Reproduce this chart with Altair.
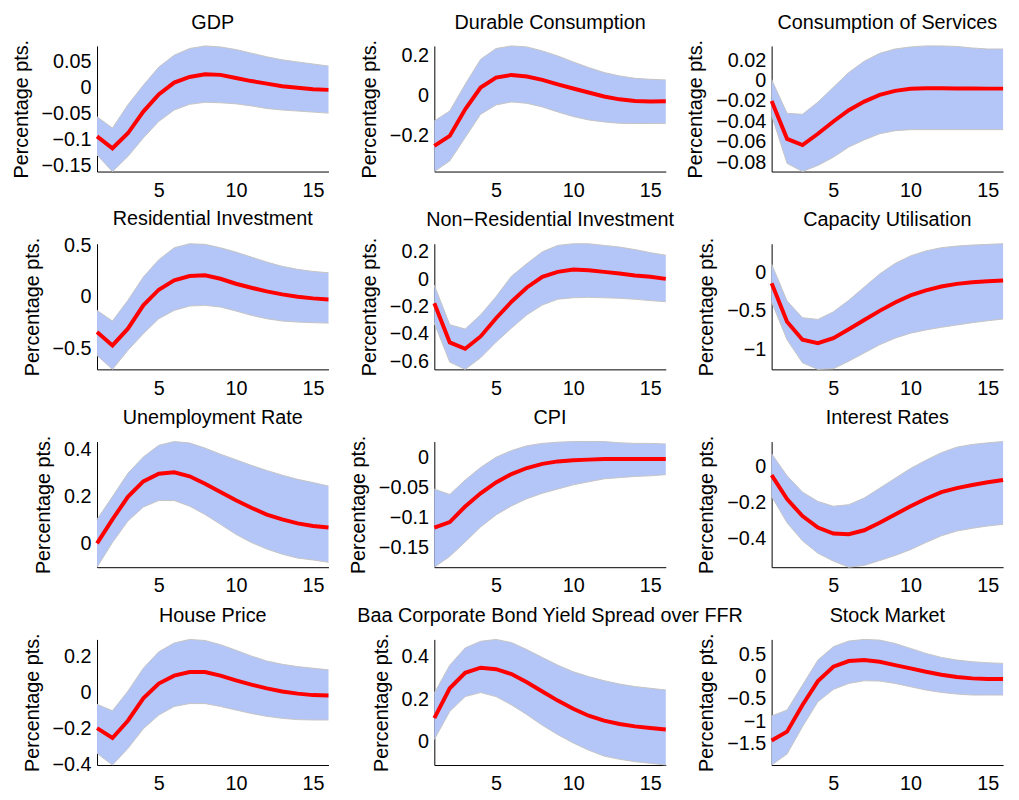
import altair as alt
import pandas as pd

FONT = "Liberation Sans, Arial, Helvetica, sans-serif"
BAND = "#B4C6F8"
EDGE = "#C4C4C4"
RED = "#FF0000"

steps = list(range(1, 17))
x_ticks = [5, 10, 15]

# GDP
gdp_mid = [-0.094, -0.117, -0.088, -0.046, -0.013, 0.010, 0.021, 0.026, 0.025, 0.019, 0.013, 0.008, 0.003, 0.000, -0.003, -0.004]
gdp_hi = [-0.056, -0.078, -0.033, 0.005, 0.040, 0.063, 0.076, 0.081, 0.079, 0.074, 0.067, 0.060, 0.054, 0.050, 0.046, 0.042]
gdp_lo = [-0.130, -0.162, -0.133, -0.097, -0.065, -0.043, -0.032, -0.028, -0.029, -0.031, -0.035, -0.040, -0.043, -0.045, -0.047, -0.049]
gdp_ticks = [-0.15, -0.1, -0.05, 0, 0.05]

# Durable consumption
dur_mid = [-0.250, -0.200, -0.067, 0.042, 0.092, 0.105, 0.097, 0.080, 0.058, 0.037, 0.017, -0.003, -0.017, -0.025, -0.028, -0.027]
dur_hi = [-0.125, -0.075, 0.058, 0.183, 0.237, 0.250, 0.245, 0.225, 0.200, 0.170, 0.142, 0.117, 0.100, 0.088, 0.083, 0.080]
dur_lo = [-0.378, -0.325, -0.208, -0.092, -0.045, -0.030, -0.037, -0.055, -0.080, -0.103, -0.120, -0.130, -0.137, -0.138, -0.138, -0.137]
dur_ticks = [-0.2, 0, 0.2]

# Consumption of services
srv_mid = [-0.020, -0.057, -0.063, -0.052, -0.040, -0.029, -0.0205, -0.014, -0.010, -0.008, -0.0075, -0.0075, -0.0077, -0.0077, -0.0078, -0.0078]
srv_hi = [0.001, -0.032, -0.033, -0.021, -0.0065, 0.008, 0.019, 0.0267, 0.031, 0.033, 0.034, 0.034, 0.0335, 0.032, 0.031, 0.031]
srv_lo = [-0.034, -0.081, -0.089, -0.083, -0.075, -0.065, -0.058, -0.052, -0.049, -0.048, -0.048, -0.048, -0.048, -0.048, -0.048, -0.048]
srv_ticks = [-0.08, -0.06, -0.04, -0.02, 0, 0.02]

# Residential investment
res_mid = [-0.339, -0.468, -0.306, -0.080, 0.071, 0.161, 0.203, 0.210, 0.177, 0.129, 0.090, 0.055, 0.026, 0.003, -0.013, -0.023]
res_hi = [-0.129, -0.232, -0.032, 0.194, 0.361, 0.477, 0.516, 0.510, 0.477, 0.435, 0.387, 0.339, 0.297, 0.268, 0.248, 0.235]
res_lo = [-0.565, -0.700, -0.516, -0.355, -0.210, -0.129, -0.087, -0.080, -0.097, -0.135, -0.177, -0.210, -0.232, -0.242, -0.248, -0.252]
res_ticks = [-0.5, 0, 0.5]

# Non-residential investment
nres_mid = [-0.177, -0.463, -0.509, -0.419, -0.286, -0.165, -0.061, 0.017, 0.053, 0.070, 0.065, 0.053, 0.041, 0.027, 0.017, 0.002]
nres_hi = [-0.044, -0.333, -0.365, -0.261, -0.128, 0.022, 0.114, 0.200, 0.247, 0.259, 0.259, 0.247, 0.235, 0.216, 0.194, 0.175]
nres_lo = [-0.321, -0.607, -0.660, -0.575, -0.461, -0.358, -0.261, -0.189, -0.147, -0.136, -0.133, -0.136, -0.140, -0.147, -0.157, -0.165]
nres_ticks = [-0.6, -0.4, -0.2, 0, 0.2]

# Capacity utilisation
cap_mid = [-0.140, -0.638, -0.872, -0.915, -0.851, -0.736, -0.617, -0.498, -0.391, -0.298, -0.234, -0.183, -0.149, -0.128, -0.115, -0.106]
cap_hi = [0.106, -0.370, -0.587, -0.609, -0.511, -0.362, -0.191, -0.021, 0.115, 0.213, 0.277, 0.319, 0.340, 0.353, 0.362, 0.370]
cap_lo = [-0.383, -0.872, -1.170, -1.255, -1.247, -1.149, -1.043, -0.936, -0.851, -0.787, -0.745, -0.711, -0.681, -0.651, -0.626, -0.604]
cap_ticks = [-1, -0.5, 0]

# Unemployment rate
une_mid = [-0.001, 0.102, 0.199, 0.265, 0.298, 0.304, 0.287, 0.255, 0.220, 0.184, 0.152, 0.123, 0.102, 0.085, 0.074, 0.067]
une_hi = [0.102, 0.200, 0.300, 0.370, 0.420, 0.436, 0.430, 0.408, 0.382, 0.358, 0.334, 0.312, 0.292, 0.274, 0.260, 0.245]
une_lo = [-0.103, 0.003, 0.095, 0.155, 0.183, 0.183, 0.159, 0.123, 0.081, 0.038, 0.003, -0.025, -0.047, -0.064, -0.072, -0.082]
une_ticks = [0, 0.2, 0.4]

# CPI
cpi_mid = [-0.117, -0.108, -0.082, -0.060, -0.042, -0.028, -0.018, -0.011, -0.007, -0.005, -0.004, -0.003, -0.003, -0.003, -0.003, -0.003]
cpi_hi = [-0.053, -0.062, -0.038, -0.017, 0.000, 0.011, 0.019, 0.023, 0.025, 0.026, 0.026, 0.026, 0.024, 0.023, 0.023, 0.022]
cpi_lo = [-0.183, -0.165, -0.141, -0.116, -0.096, -0.081, -0.069, -0.060, -0.053, -0.046, -0.041, -0.036, -0.034, -0.032, -0.031, -0.029]
cpi_ticks = [-0.15, -0.1, -0.05, 0]

# Interest rates
int_mid = [-0.046, -0.180, -0.275, -0.339, -0.372, -0.376, -0.354, -0.312, -0.266, -0.220, -0.178, -0.141, -0.119, -0.101, -0.086, -0.073]
int_hi = [0.073, -0.050, -0.141, -0.193, -0.220, -0.211, -0.174, -0.119, -0.064, -0.009, 0.037, 0.079, 0.110, 0.125, 0.134, 0.141]
int_lo = [-0.165, -0.312, -0.413, -0.482, -0.526, -0.560, -0.550, -0.523, -0.495, -0.462, -0.422, -0.385, -0.358, -0.343, -0.330, -0.321]
int_ticks = [-0.4, -0.2, 0]

# House price
hp_mid = [-0.196, -0.251, -0.155, -0.031, 0.051, 0.095, 0.115, 0.115, 0.095, 0.069, 0.045, 0.024, 0.007, -0.005, -0.013, -0.015]
hp_hi = [-0.064, -0.100, 0.009, 0.136, 0.227, 0.276, 0.296, 0.290, 0.267, 0.236, 0.204, 0.176, 0.158, 0.145, 0.136, 0.127]
hp_lo = [-0.336, -0.401, -0.309, -0.200, -0.124, -0.076, -0.060, -0.060, -0.076, -0.096, -0.115, -0.131, -0.142, -0.149, -0.151, -0.151]
hp_ticks = [-0.4, -0.2, 0, 0.2]

# Baa corporate bond yield spread over FFR
baa_mid = [0.112, 0.252, 0.325, 0.349, 0.342, 0.319, 0.280, 0.237, 0.194, 0.156, 0.123, 0.100, 0.084, 0.073, 0.065, 0.058]
baa_hi = [0.229, 0.361, 0.442, 0.473, 0.482, 0.467, 0.434, 0.397, 0.361, 0.330, 0.307, 0.288, 0.272, 0.260, 0.252, 0.244]
baa_lo = [0.011, 0.143, 0.213, 0.232, 0.213, 0.174, 0.128, 0.078, 0.034, -0.005, -0.039, -0.067, -0.082, -0.093, -0.101, -0.109]
baa_ticks = [0, 0.2, 0.4]

# Stock market
stk_mid = [-1.430, -1.230, -0.634, -0.097, 0.224, 0.351, 0.373, 0.336, 0.261, 0.187, 0.112, 0.045, -0.007, -0.037, -0.052, -0.052]
stk_hi = [-0.880, -0.746, -0.187, 0.373, 0.672, 0.799, 0.836, 0.820, 0.746, 0.634, 0.522, 0.433, 0.373, 0.336, 0.313, 0.299]
stk_lo = [-1.978, -1.731, -1.119, -0.560, -0.284, -0.149, -0.090, -0.097, -0.149, -0.224, -0.299, -0.351, -0.388, -0.410, -0.410, -0.410]
stk_ticks = [-1.5, -1, -0.5, 0, 0.5]

panels_spec = [
    ("GDP", gdp_mid, gdp_lo, gdp_hi, gdp_ticks),
    ("Durable Consumption", dur_mid, dur_lo, dur_hi, dur_ticks),
    ("Consumption of Services", srv_mid, srv_lo, srv_hi, srv_ticks),
    ("Residential Investment", res_mid, res_lo, res_hi, res_ticks),
    ("Non\u2212Residential Investment", nres_mid, nres_lo, nres_hi, nres_ticks),
    ("Capacity Utilisation", cap_mid, cap_lo, cap_hi, cap_ticks),
    ("Unemployment Rate", une_mid, une_lo, une_hi, une_ticks),
    ("CPI", cpi_mid, cpi_lo, cpi_hi, cpi_ticks),
    ("Interest Rates", int_mid, int_lo, int_hi, int_ticks),
    ("House Price", hp_mid, hp_lo, hp_hi, hp_ticks),
    ("Baa Corporate Bond Yield Spread over FFR", baa_mid, baa_lo, baa_hi, baa_ticks),
    ("Stock Market", stk_mid, stk_lo, stk_hi, stk_ticks),
]


def panel(title, mid, lo, hi, ticks):
    df = pd.DataFrame({"step": steps, "mid": mid, "lo": lo, "hi": hi})
    x = alt.X("step:Q", scale=alt.Scale(domain=[1, 16], nice=False, zero=False),
              axis=alt.Axis(values=x_ticks, title=None, labelPadding=9))
    y_scale = alt.Scale(domain=[min(lo), max(hi)], nice=False, zero=False)
    y_axis = alt.Axis(values=ticks, format="~g", title="Percentage pts.",
                      labelPadding=6, titlePadding=10)
    base = alt.Chart(df)
    band = base.mark_area(color=BAND, opacity=1).encode(
        x=x, y=alt.Y("lo:Q", scale=y_scale, axis=y_axis), y2="hi:Q")
    edge_lo = base.mark_line(color=EDGE, strokeWidth=1).encode(
        x=x, y=alt.Y("lo:Q", scale=y_scale, axis=y_axis))
    edge_hi = base.mark_line(color=EDGE, strokeWidth=1).encode(
        x=x, y=alt.Y("hi:Q", scale=y_scale, axis=y_axis))
    line = base.mark_line(color=RED, strokeWidth=4, strokeJoin="miter").encode(
        x=x, y=alt.Y("mid:Q", scale=y_scale, axis=y_axis))
    return alt.layer(band, edge_lo, edge_hi, line).properties(
        width=234, height=127, title=title)


charts = [panel(*p) for p in panels_spec]

chart = alt.concat(
    *charts, columns=3,
    spacing=alt.RowColnumber(row=73, column=107),
    bounds="flush",
    padding={"left": 3, "top": 0, "right": 0, "bottom": 0},
).configure_view(stroke=None).configure_axis(
    grid=False, ticks=False, tickSize=0,
    domainColor="black", domainWidth=1,
    labelColor="black", labelFont=FONT, labelFontSize=20,
    titleColor="black", titleFont=FONT, titleFontSize=20, titleFontWeight="normal",
).configure_title(
    font=FONT, fontSize=20, fontWeight="normal", color="black",
    offset=7, anchor="middle",
)

chart.save("out.html", embed_options={"renderer": "svg", "actions": False})
